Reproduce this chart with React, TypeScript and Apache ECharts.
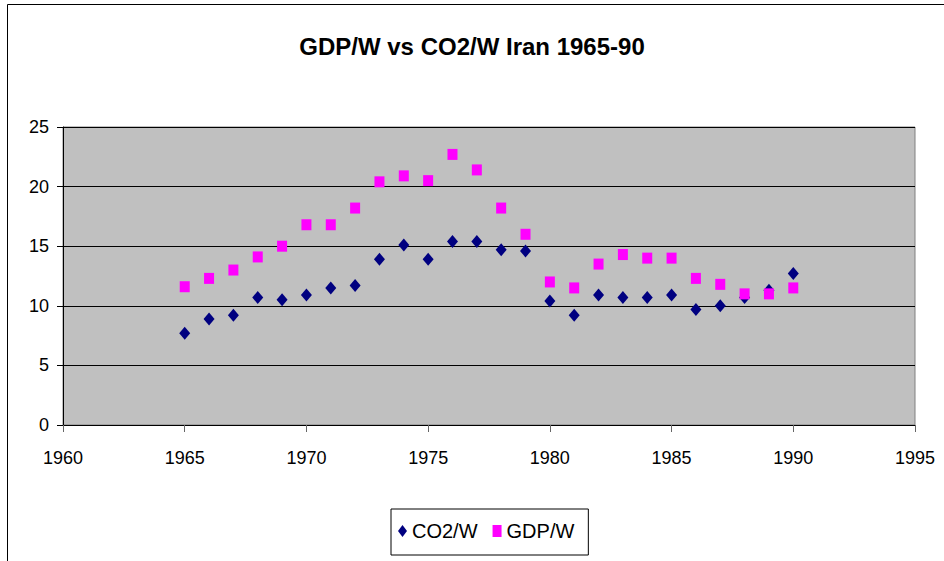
import React, { useEffect, useRef } from "react";
import * as echarts from "echarts";

const years = [1965, 1966, 1967, 1968, 1969, 1970, 1971, 1972, 1973, 1974, 1975, 1976, 1977, 1978, 1979, 1980, 1981, 1982, 1983, 1984, 1985, 1986, 1987, 1988, 1989, 1990];
const co2PerW = [7.7, 8.9, 9.2, 10.7, 10.5, 10.9, 11.5, 11.7, 13.9, 15.1, 13.9, 15.4, 15.4, 14.7, 14.6, 10.4, 9.2, 10.9, 10.7, 10.7, 10.9, 9.7, 10.0, 10.7, 11.3, 12.7];
const gdpPerW = [11.6, 12.3, 13.0, 14.1, 15.0, 16.8, 16.8, 18.2, 20.4, 20.9, 20.5, 22.7, 21.4, 18.2, 16.0, 12.0, 11.5, 13.5, 14.3, 14.0, 14.0, 12.3, 11.8, 11.0, 11.0, 11.5];
const titleText = "GDP/W vs CO2/W Iran 1965-90";
const seriesNames = ["CO2/W", "GDP/W"];

const FONT = "'Liberation Sans', Arial, sans-serif";

export default function App() {
  const ref = useRef<HTMLDivElement>(null);
  useEffect(() => {
    if (!ref.current) return;
    const chart = echarts.init(ref.current, null, { renderer: "svg" });
    chart.setOption({
      animation: false,
      backgroundColor: "#ffffff",
      textStyle: { fontFamily: FONT },
      title: {
        text: titleText,
        left: "center",
        top: 29,
        textStyle: { fontFamily: FONT, fontWeight: "bold", fontSize: 24, color: "#000" },
      },
      graphic: [
        {
          type: "rect",
          shape: { x: 7.5, y: 4.5, width: 1000, height: 1000 },
          style: { fill: "none", stroke: "#000", lineWidth: 1 },
          silent: true,
        },
      ],
      grid: {
        left: 63,
        right: 29,
        top: 127,
        bottom: 136,
        show: true,
        backgroundColor: "#C0C0C0",
        borderColor: "#808080",
        borderWidth: 1,
      },
      legend: {
        left: 391,
        top: 509,
        orient: "horizontal",
        borderColor: "#000",
        borderWidth: 1,
        padding: [12, 14, 14, 7],
        itemGap: 15,
        itemWidth: 9,
        itemHeight: 12,
        textStyle: { fontFamily: FONT, fontSize: 20, color: "#000" },
        data: [
          { name: seriesNames[0], icon: "diamond" },
          { name: seriesNames[1], icon: "rect" },
        ],
      },
      xAxis: {
        type: "value",
        min: 1960,
        max: 1995,
        interval: 5,
        axisLine: { show: true, lineStyle: { color: "#000", width: 1 } },
        axisTick: { show: true, length: 7, inside: false, lineStyle: { color: "#666" } },
        axisLabel: {
          fontFamily: FONT,
          fontSize: 18,
          color: "#000",
          margin: 24,
          formatter: (v: number) => String(v),
        },
        splitLine: { show: false },
      },
      yAxis: {
        type: "value",
        min: 0,
        max: 25,
        interval: 5,
        axisLine: { show: true, lineStyle: { color: "#000", width: 1 } },
        axisTick: { show: true, length: 6, inside: false, lineStyle: { color: "#000" } },
        axisLabel: { fontFamily: FONT, fontSize: 18, color: "#000", margin: 14 },
        splitLine: { show: true, lineStyle: { color: "#000", width: 1 } },
      },
      series: [
        {
          name: seriesNames[0],
          type: "scatter",
          symbol: "diamond",
          symbolSize: [11, 13],
          itemStyle: { color: "#000080", opacity: 1 },
          data: years.map((y, i) => [y, co2PerW[i]]),
        },
        {
          name: seriesNames[1],
          type: "scatter",
          symbol: "rect",
          symbolSize: [10, 11],
          itemStyle: { color: "#FF00FF", opacity: 1 },
          data: years.map((y, i) => [y, gdpPerW[i]]),
        },
      ],
    });
    return () => chart.dispose();
  }, []);
  return (
    <div
      ref={ref}
      style={{ position: "fixed", left: 0, top: 0, width: 944, height: 561 }}
    />
  );
}
